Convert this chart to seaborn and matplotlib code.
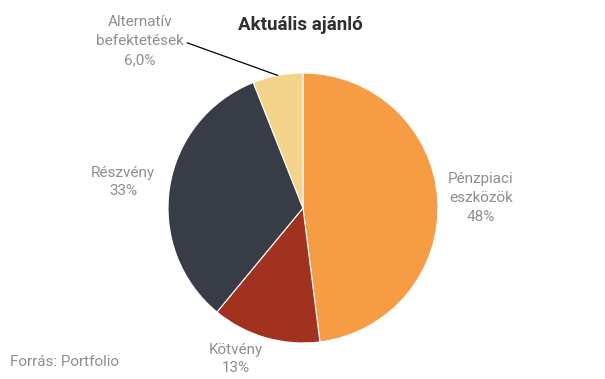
import matplotlib.pyplot as plt
import numpy as np
import seaborn as sns

labels = ["Pénzpiaci\neszközök", "Kötvény", "Részvény", "Alternatív\nbefektetések"]
values = [48, 13, 33, 6.0]
pct_labels = ["48%", "13%", "33%", "6,0%"]
colors = ["#F69C45", "#A13220", "#383C46", "#F4D38B"]

sns.set_theme(style="white")
plt.rcParams["font.family"] = ["Roboto", "DejaVu Sans"]

fig = plt.figure(figsize=(6.05, 3.79), dpi=100)
ax = fig.add_axes([0, 0, 1, 1])

# pixel-like coordinates so the pie sits where it does in the original
cx, cy, r = 303, 171, 135
wedges, _ = ax.pie(values, colors=sns.color_palette(colors), startangle=90,
                   counterclock=False, center=(cx, cy), radius=r,
                   wedgeprops=dict(edgecolor="white", linewidth=0.8))
ax.set_xlim(0, 605)
ax.set_ylim(0, 379)
ax.set_aspect("equal")
ax.axis("off")

grey = "#8E8E8E"
fs = 11
# where each label block is centred (x from left, y from bottom)
spots = [(481, 181), (236, 20), (123, 197), (140, 338)]
for i, (w, lab, pct, pos) in enumerate(zip(wedges, labels, pct_labels, spots)):
    txt = f"{lab}\n{pct}"
    if i == 3:
        mid = np.deg2rad((w.theta1 + w.theta2) / 2)
        ex, ey = cx + r * np.cos(mid), cy + r * np.sin(mid)
        ax.annotate(txt, xy=(ex, ey), xytext=pos,
                    ha="center", va="center", color=grey, fontsize=fs,
                    linespacing=1.45,
                    arrowprops=dict(arrowstyle="-", color="black", lw=0.9,
                                    shrinkA=0, shrinkB=0,
                                    relpos=(0.98, 0.5)))
    else:
        ax.text(*pos, txt, ha="center", va="center", color=grey,
                fontsize=fs, linespacing=1.45)

fig.text(0.497, 0.934, "Aktuális ajánló", ha="center", va="center",
         fontsize=13.5, fontweight="bold", color="#2E2E33")
fig.text(0.017, 0.045, "Forrás: Portfolio", ha="left", va="center",
         fontsize=fs, color=grey)

fig.savefig("out.png", dpi=100)
